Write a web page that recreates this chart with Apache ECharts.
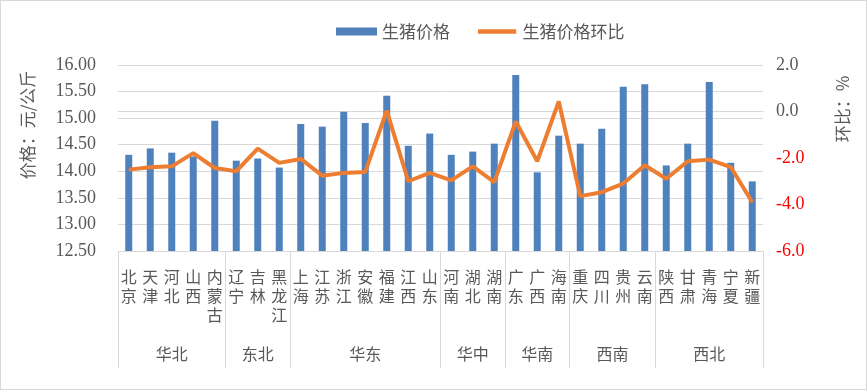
<!DOCTYPE html>
<html>
<head>
<meta charset="utf-8">
<script src="https://cdn.jsdelivr.net/npm/echarts@6/dist/echarts.min.js"></script>
<style>
html,body{margin:0;padding:0;background:#fff;}
#c{width:867px;height:390px;position:relative;}
#frame{position:absolute;left:0;top:0;width:865px;height:388px;border:1px solid #d9d9d9;pointer-events:none;}
</style>
</head>
<body>
<div id="c"></div>
<div id="frame"></div>
<script>
const provinces = ['北京','天津','河北','山西','内蒙古','辽宁','吉林','黑龙江','上海','江苏','浙江','安徽','福建','江西','山东','河南','湖北','湖南','广东','广西','海南','重庆','四川','贵州','云南','陕西','甘肃','青海','宁夏','新疆'];
const regions = ['华北','东北','华东','华中','华南','西南','西北'];
const regionSizes = [5,3,7,3,3,4,5];
const price = [14.31,14.43,14.35,14.28,14.95,14.20,14.24,14.07,14.89,14.84,15.12,14.91,15.42,14.48,14.71,14.31,14.37,14.52,15.81,13.98,14.67,14.52,14.80,15.59,15.64,14.11,14.52,15.68,14.16,13.81];
const mom = [-2.50,-2.40,-2.36,-1.79,-2.43,-2.57,-1.60,-2.21,-2.04,-2.76,-2.64,-2.60,0.04,-3.00,-2.64,-2.96,-2.36,-3.04,-0.43,-2.14,0.43,-3.64,-3.47,-3.10,-2.31,-2.89,-2.14,-2.07,-2.39,-3.90];
const leftTicks = {min:12.5, max:16, interval:0.5};
const rightTicks = {min:-6, max:2, interval:2};

// build region boundaries and label positions
const starts = new Set();
const labelAt = {};
let s = 0;
regions.forEach((r, i) => {
  starts.add(s);
  const n = regionSizes[i];
  if (n % 2 === 1) labelAt[s + (n - 1) / 2] = {name: r, even: false};
  else labelAt[s + n / 2 - 1] = {name: r, even: true};
  s += n;
});

const cjk = '"Noto Sans CJK SC", sans-serif';
const num = '"Liberation Serif", serif';
const gray = '#595959';
const lineIcon = 'path://M0,0L0.01,0M0,2L43,2L43,7L0,7ZM0,9L0.01,9';

const chart = echarts.init(document.getElementById('c'));
chart.setOption({
  animation: false,
  legend: {
    left: 331, top: 18,
    itemWidth: 41, itemHeight: 8, itemGap: 28,
    textStyle: {fontFamily: cjk, fontSize: 17, color: gray},
    data: [
      {name: '生猪价格', icon: 'rect'},
      {name: '生猪价格环比', icon: lineIcon, itemStyle: {color: '#ed7d31'}}
    ]
  },
  grid: {left: 118, right: 104, top: 65, bottom: 139},
  xAxis: [{
    type: 'category',
    data: provinces,
    axisLine: {lineStyle: {color: '#d9d9d9'}},
    axisTick: {show: false},
    axisLabel: {
      interval: 0, margin: 16, color: gray, fontFamily: cjk, fontSize: 16, lineHeight: 19,
      formatter: v => v.split('').join('\n')
    }
  }, {
    type: 'category',
    data: provinces,
    position: 'bottom',
    axisLine: {show: false},
    axisTick: {show: true, length: 117, interval: (i) => starts.has(i), lineStyle: {color: '#d9d9d9'}},
    axisLabel: {
      interval: 0, margin: 95, color: gray, fontFamily: cjk, fontSize: 16,
      formatter: (v, i) => {
        const l = labelAt[i];
        if (!l) return '';
        return l.even ? '{e|' + l.name + '}' : l.name;
      },
      rich: {e: {padding: [0, 0, 0, 21.5], fontFamily: cjk, fontSize: 16, color: gray}}
    }
  }],
  yAxis: [{
    type: 'value',
    min: leftTicks.min, max: leftTicks.max, interval: leftTicks.interval,
    name: '价格：元/公斤', nameLocation: 'middle', nameGap: 82, nameRotate: 90,
    nameTextStyle: {fontFamily: cjk, fontSize: 17, color: gray, padding: [0, 0, 0, 66]},
    axisLine: {show: false}, axisTick: {show: false},
    splitLine: {lineStyle: {color: '#d9d9d9'}},
    axisLabel: {margin: 22, color: gray, fontFamily: num, fontSize: 18, formatter: v => v.toFixed(2)}
  }, {
    type: 'value',
    min: rightTicks.min, max: rightTicks.max, interval: rightTicks.interval,
    name: '环比：%', nameLocation: 'middle', nameGap: 71, nameRotate: 90,
    nameTextStyle: {fontFamily: cjk, fontSize: 17, color: gray, padding: [0, 0, 0, 98]},
    axisLine: {show: false}, axisTick: {show: false}, splitLine: {show: false},
    axisLabel: {
      margin: 13, fontFamily: num, fontSize: 18,
      formatter: v => v < 0 ? '{r|' + v.toFixed(1) + '}' : '{g|' + v.toFixed(1) + '}',
      rich: {r: {color: '#ff0000', fontFamily: num, fontSize: 18}, g: {color: gray, fontFamily: num, fontSize: 18}}
    }
  }],
  series: [{
    name: '生猪价格', type: 'bar', data: price, barWidth: 7,
    itemStyle: {color: '#4f81bd'}
  }, {
    name: '生猪价格环比', type: 'line', yAxisIndex: 1, data: mom,
    showSymbol: false, symbol: 'none',
    lineStyle: {color: '#ed7d31', width: 4},
    itemStyle: {color: '#ed7d31'}
  }]
});
</script>
</body>
</html>
